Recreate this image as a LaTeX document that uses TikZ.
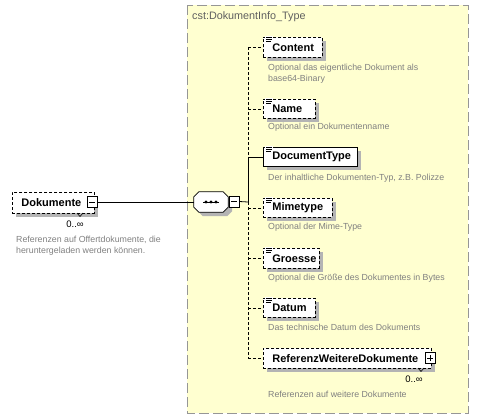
\documentclass[tikz,border=0pt]{standalone}
\usepackage{fontspec}
\setmainfont{Liberation Sans}
\definecolor{boxyellow}{RGB}{255,255,208}
\definecolor{boxborder}{RGB}{150,150,150}
\definecolor{desc}{RGB}{128,128,128}
\definecolor{titlegray}{RGB}{95,95,95}
\definecolor{shadowgray}{RGB}{180,180,180}
\tikzset{
  dsh/.style={dash pattern=on 3pt off 2pt},
  shad/.style={preaction={fill=shadowgray, draw=none, transform canvas={shift={(4pt,-4pt)}}}},
  elem/.style={draw=black, line width=0.8pt, fill=white, shad, anchor=north west,
    font=\fontsize{11}{12}\selectfont\bfseries, inner xsep=9pt, inner ysep=0pt, align=left},
  optelem/.style={elem, dsh},
  descr/.style={anchor=north west, text=desc, font=\fontsize{8.8}{11}\selectfont, inner sep=0pt, align=left},
  card/.style={font=\fontsize{9.5}{10}\selectfont, inner sep=0pt},
  pmbox/.style={draw=black, line width=0.8pt, fill=white, minimum width=10pt, minimum height=11pt, inner sep=0pt},
  conn/.style={line width=0.8pt},
  icon/.style={line width=0.6pt}
}
\begin{document}
\begin{tikzpicture}[x=1pt,y=-1pt]
\useasboundingbox (0,0) rectangle (479,418);
% type box
\draw[fill=boxyellow, draw=boxborder, line width=0.9pt, dash pattern=on 10pt off 4pt] (187,5) rectangle (468,413);
\node[anchor=west, text=titlegray, font=\fontsize{10.8}{12}\selectfont, inner sep=0pt] (title) at (192,17) {cst:DokumentInfo\_Type};

% Dokumente
\node[optelem, minimum height=21pt, text width=64pt] (dok) at (12,192) {Dokumente};
\node[pmbox] (dokm) at (92,202) {};
\draw[line width=0.8pt] ([xshift=-3pt]dokm.center) -- ([xshift=3pt]dokm.center);
\draw[line width=0.6pt] (77,213) -- (80,216.5) -- (83,213);
\node[card, anchor=north] (dokc) at (75,221) {0..∞};
\node[descr] (dokd) at (16,236) {Referenzen auf Offertdokumente, die\\heruntergeladen werden können.};

% sequence compositor
\node[minimum width=34pt, minimum height=20pt, inner sep=0pt] (seq) at (211,202) {};
\draw[line width=0.8pt, fill=white, shad]
  ([xshift=5pt]seq.north west) -- ([xshift=-5pt]seq.north east) -- ([yshift=-5pt]seq.north east)
  -- ([yshift=5pt]seq.south east) -- ([xshift=-5pt]seq.south east) -- ([xshift=5pt]seq.south west)
  -- ([yshift=5pt]seq.south west) -- ([yshift=-5pt]seq.north west) -- cycle;
\draw[line width=0.8pt] (203,202) -- (219,202);
\foreach \xx in {206,211,216} \fill (\xx,202) circle (1.6pt);
\node[pmbox] (seqm) at (234,201.5) {};
\draw[line width=0.8pt] ([xshift=-3pt]seqm.center) -- ([xshift=3pt]seqm.center);
\coordinate (sp) at (248,202);

% children
\node[optelem, minimum height=20pt, text width=41pt] (content) at (263,37) {Content};
\node[descr] (contentd) at (268,64) {Optional das eigentliche Dokument als\\base64-Binary};
\node[optelem, minimum height=19pt, text width=34pt] (name) at (263,99) {Name};
\node[descr] (named) at (268,123) {Optional ein Dokumentenname};
\node[elem, minimum height=19pt, text width=76pt] (doctype) at (263,147) {DocumentType};
\node[descr] (doctyped) at (268,174) {Der inhaltliche Dokumenten-Typ, z.B. Polizze};
\node[optelem, minimum height=19pt, text width=51pt] (mime) at (263,198) {Mimetype};
\node[descr] (mimed) at (268,223) {Optional der Mime-Type};
\node[optelem, minimum height=20pt, text width=38pt] (groesse) at (263,248) {Groesse};
\node[descr] (groessed) at (268,274) {Optional die Größe des Dokumentes in Bytes};
\node[optelem, minimum height=19pt, text width=34pt] (datum) at (263,298) {Datum};
\node[descr] (datumd) at (268,324) {Das technische Datum des Dokuments};
\node[optelem, minimum height=20pt, text width=150pt] (ref) at (263,348) {ReferenzWeitereDokumente};
\node[pmbox] (refp) at (430,358) {};
\draw[line width=0.8pt] ([xshift=-3pt]refp.center) -- ([xshift=3pt]refp.center)
  ([yshift=-3pt]refp.center) -- ([yshift=3pt]refp.center);
\draw[line width=0.6pt] (418,368) -- (421,371.5) -- (424,368);
\node[card, anchor=north] (refc) at (414,376) {0..∞};
\node[descr] (refd) at (268,391) {Referenzen auf weitere Dokumente};

% icons (simple content)
\foreach \n in {content,name,doctype,mime,groesse,datum}{
  \fill[white] ([xshift=2pt,yshift=1pt]\n.north west) rectangle ([xshift=10pt,yshift=-5.5pt]\n.north west);
  \draw[icon] ([xshift=3pt,yshift=0pt]\n.north west) -- ++(6,0)
              ([xshift=3pt,yshift=-2pt]\n.north west) -- ++(6,0)
              ([xshift=3pt,yshift=-4pt]\n.north west) -- ++(5,0);
}

% connectors
\draw[conn] (dokm.east) -- (seq.west);
\draw[conn] (seqm.east) -- (sp);
\draw[conn, dsh] (content.west -| sp) -- (doctype.west -| sp);
\draw[conn] (doctype.west -| sp) -- (sp);
\draw[conn, dsh] (sp) -- (ref.west -| sp);
\draw[conn] (doctype.west -| sp) -- (doctype.west);
\foreach \n in {content,name,mime,groesse,datum,ref}
  \draw[conn, dsh] (\n.west -| sp) -- (\n.west);
\end{tikzpicture}
\end{document}
